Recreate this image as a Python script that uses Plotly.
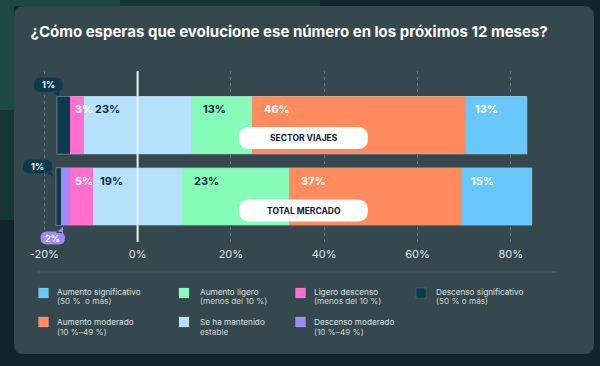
import plotly.graph_objects as go

# ---------------- data ----------------
categories = ["SECTOR VIAJES", "TOTAL MERCADO"]
aumento_significativo = [13, 15]
aumento_moderado = [46, 37]
aumento_ligero = [13, 23]
mantenido_estable = [23, 19]
ligero_descenso = [3, 5]
descenso_moderado = [0, 2]
descenso_significativo = [2.8, 1]        # drawn length
descenso_significativo_label = [1, 1]    # value printed in the callout
tick_values = [-20, 0, 20, 40, 60, 80]
tick_labels = ["-20%", "0%", "20%", "40%", "60%", "80%"]

legend_rows = [
    [("Aumento significativo", "(50 %  o más)"), ("Aumento ligero", "(menos del 10 %)"),
     ("Ligero descenso", "(menos del 10 %)"), ("Descenso significativo", "(50 % o más)")],
    [("Aumento moderado", "(10 %–49 %)"), ("Se ha mantenido", "estable"),
     ("Descenso moderado", "(10 %–49 %)")],
]

# ---------------- style ----------------
C = {
    "Aumento significativo": "#68c8fc",
    "Aumento moderado": "#ff8b5e",
    "Aumento ligero": "#87fbb8",
    "Se ha mantenido": "#b5e1fd",
    "Ligero descenso": "#ff6fd0",
    "Descenso moderado": "#a08af8",
    "Descenso significativo": "#0d3a4f",
}
DARK_TXT = "#0f2c3c"
FONT = "Inter"
W, H = 600, 366
L, T, PW, PH = 35, 71, 513, 171


def px(x):
    return (x - L) / PW


def py(y):
    return 1 - (y - T) / PH


def rrect(x0, y0, x1, y1, r, tail=None):
    pts = [f"M{px(x0 + r)},{py(y0)}", f"L{px(x1 - r)},{py(y0)}",
           f"Q{px(x1)},{py(y0)} {px(x1)},{py(y0 + r)}", f"L{px(x1)},{py(y1 - r)}",
           f"Q{px(x1)},{py(y1)} {px(x1 - r)},{py(y1)}", f"L{px(x0 + r)},{py(y1)}",
           f"Q{px(x0)},{py(y1)} {px(x0)},{py(y1 - r)}", f"L{px(x0)},{py(y0 + r)}",
           f"Q{px(x0)},{py(y0)} {px(x0 + r)},{py(y0)}", "Z"]
    p = " ".join(pts)
    if tail:
        (a, b), (c, d), (e, f) = tail
        p += f" M{px(a)},{py(b)} L{px(c)},{py(d)} L{px(e)},{py(f)} Z"
    return p


fig = go.Figure()
BW = 0.81


def add_bar(name, vals, color):
    fig.add_trace(go.Bar(y=categories, x=vals, orientation="h", name=name,
                         marker=dict(color=color, line=dict(width=0)),
                         width=BW, hoverinfo="skip", showlegend=False))


# negatives (stack leftwards from zero)
add_bar("Se ha mantenido", [-v / 2 for v in mantenido_estable], C["Se ha mantenido"])
add_bar("Ligero descenso", [-v for v in ligero_descenso], C["Ligero descenso"])
add_bar("Descenso moderado", [-v for v in descenso_moderado], C["Descenso moderado"])
add_bar("Descenso significativo", [-v for v in descenso_significativo], C["Descenso significativo"])
# positives
add_bar("Se ha mantenido", [v / 2 for v in mantenido_estable], C["Se ha mantenido"])
add_bar("Aumento ligero", aumento_ligero, C["Aumento ligero"])
add_bar("Aumento moderado", aumento_moderado, C["Aumento moderado"])
add_bar("Aumento significativo", aumento_significativo, C["Aumento significativo"])

annotations = []
shapes = []

# card + background
shapes.append(dict(type="rect", xref="paper", yref="paper", x0=px(0), x1=px(320), y0=py(0), y1=py(6),
                   fillcolor="#163731", line_width=0, layer="below"))
shapes.append(dict(type="rect", xref="paper", yref="paper", x0=px(0), x1=px(14), y0=py(0), y1=py(220),
                   fillcolor="#163731", line_width=0, layer="below"))
shapes.append(dict(type="rect", xref="paper", yref="paper", x0=px(0), x1=px(120), y0=py(0), y1=py(6),
                   fillcolor="#1d4a40", line_width=0, layer="below"))
shapes.append(dict(type="rect", xref="paper", yref="paper", x0=px(0), x1=px(14), y0=py(0), y1=py(110),
                   fillcolor="#1d4a40", line_width=0, layer="below"))
shapes.append(dict(type="path", xref="paper", yref="paper", path=rrect(14, 6, 594, 354, 10),
                   fillcolor="#35484d", line_width=0, layer="below"))

# zero line above bars
shapes.append(dict(type="line", xref="x", yref="paper", x0=0, x1=0, y0=0, y1=1,
                   line=dict(color="#eef3f5", width=2), layer="above"))

# bar outlines and in-bar labels
for i, cat in enumerate(categories):
    half = mantenido_estable[i] / 2
    left_est = -half
    left_lig = left_est - ligero_descenso[i]
    left_mod = left_lig - descenso_moderado[i]
    left_sig = left_mod - descenso_significativo[i]
    right_end = half + aumento_ligero[i] + aumento_moderado[i] + aumento_significativo[i]
    shapes.append(dict(type="rect", xref="x", yref="y", x0=left_sig, x1=right_end,
                       y0=i - BW / 2, y1=i + BW / 2,
                       line=dict(color="rgba(170,192,198,0.45)", width=1), layer="above"))
    segs = [
        (left_lig, ligero_descenso[i], "white", 3),
        (left_est, mantenido_estable[i], DARK_TXT, 9 if i == 0 else 5),
        (half, aumento_ligero[i], DARK_TXT, 10),
        (half + aumento_ligero[i], aumento_moderado[i], "white", 10),
        (half + aumento_ligero[i] + aumento_moderado[i], aumento_significativo[i], "white", 7),
    ]
    for x0, v, col, sh in segs:
        annotations.append(dict(x=x0, y=cat, xref="x", yref="y", text=f"<b>{v}%</b>",
                                showarrow=False, xanchor="left", yanchor="middle",
                                xshift=sh, yshift=16,
                                font=dict(family=FONT, size=11, color=col)))

# category pills
pill_boxes = [(239, 127, 368, 149), (239, 199.5, 368, 221.5)]
for cat, (x0, y0, x1, y1) in zip(categories, pill_boxes):
    shapes.append(dict(type="path", xref="paper", yref="paper", path=rrect(x0, y0, x1, y1, 11),
                       fillcolor="white", line_width=0, layer="above"))
    annotations.append(dict(x=px((x0 + x1) / 2), y=py((y0 + y1) / 2), xref="paper", yref="paper",
                            text=f"<b>{cat}</b>", showarrow=False,
                            xanchor="center", yanchor="middle",
                            font=dict(family=FONT, size=8.5, color="#14161f")))

# callout bubbles
bubbles = [
    ((34, 77.5, 62.5, 92), ((52, 91), (60, 91), (58.5, 96.5)), C["Descenso significativo"],
     f"{descenso_significativo_label[0]}%"),
    ((23, 159.5, 52, 173.5), ((44, 172), (51, 172), (54, 177)), C["Descenso significativo"],
     f"{descenso_significativo_label[1]}%"),
    ((40.5, 231.5, 65, 244.5), ((56, 233), (63, 233), (63, 226.5)), C["Descenso moderado"],
     f"{descenso_moderado[1]}%"),
]
for (x0, y0, x1, y1), tail, col, txt in bubbles:
    shapes.append(dict(type="path", xref="paper", yref="paper", path=rrect(x0, y0, x1, y1, 6.5, tail),
                       fillcolor=col, line_width=0, layer="above"))
    annotations.append(dict(x=px((x0 + x1) / 2), y=py((y0 + y1) / 2), xref="paper", yref="paper",
                            text=f"<b>{txt}</b>", showarrow=False,
                            xanchor="center", yanchor="middle",
                            font=dict(family=FONT, size=9, color="white")))

# separator line under the axis
shapes.append(dict(type="line", xref="paper", yref="paper", x0=px(38.5), x1=px(556), y0=py(272), y1=py(272),
                   line=dict(color="#56696e", width=1)))

# manual legend
col_sw = [38.5, 179, 295.5, 416]
col_tx = [55, 197.5, 312, 434]
row_sw = [288, 317]
row_l1 = [291.5, 321.5]
row_l2 = [301, 332]
for r, row in enumerate(legend_rows):
    for c, (l1, l2) in enumerate(row):
        shapes.append(dict(type="rect", xref="paper", yref="paper",
                           x0=px(col_sw[c]), x1=px(col_sw[c] + 10),
                           y0=py(row_sw[r]), y1=py(row_sw[r] + 10),
                           fillcolor=C[l1], line=dict(color="rgba(255,255,255,0.25)", width=0.5)))
        annotations.append(dict(x=px(col_tx[c]), y=py(row_l1[r]), xref="paper", yref="paper",
                                text=l1, showarrow=False, xanchor="left", yanchor="middle",
                                font=dict(family=FONT, size=8.2, color="#dbe2e4")))
        annotations.append(dict(x=px(col_tx[c]), y=py(row_l2[r]), xref="paper", yref="paper",
                                text=l2, showarrow=False, xanchor="left", yanchor="middle",
                                font=dict(family=FONT, size=8.2, color="#c9d2d4")))

fig.update_layout(
    width=W, height=H,
    margin=dict(l=L, r=W - L - PW, t=T, b=H - T - PH),
    paper_bgcolor="#10252a", plot_bgcolor="rgba(0,0,0,0)",
    barmode="relative", bargap=0,
    title=dict(text="<b>¿Cómo esperas que evolucione ese número en los próximos 12 meses?</b>",
               x=30.5 / W, xanchor="left", y=1 - 31.5 / H, yanchor="middle",
               font=dict(family=FONT, size=15, color="white", weight=800)),
    xaxis=dict(range=[-22, 88], tickvals=tick_values, ticktext=tick_labels,
               showgrid=True, gridcolor="rgba(140,160,165,0.55)", griddash="dot", gridwidth=1,
               zeroline=False, showline=False, ticks="", ticklabelstandoff=4,
               tickfont=dict(family=FONT, size=11, color="#dfe6e8"), fixedrange=True),
    yaxis=dict(categoryorder="array", categoryarray=categories, range=[1.639, -0.763],
               showticklabels=False, showgrid=False, zeroline=False, fixedrange=True),
    shapes=shapes, annotations=annotations, showlegend=False,
)

fig.write_html("out.html", config={"displayModeBar": False},
               post_script="document.body.style.margin='0';document.body.style.padding='0';")
